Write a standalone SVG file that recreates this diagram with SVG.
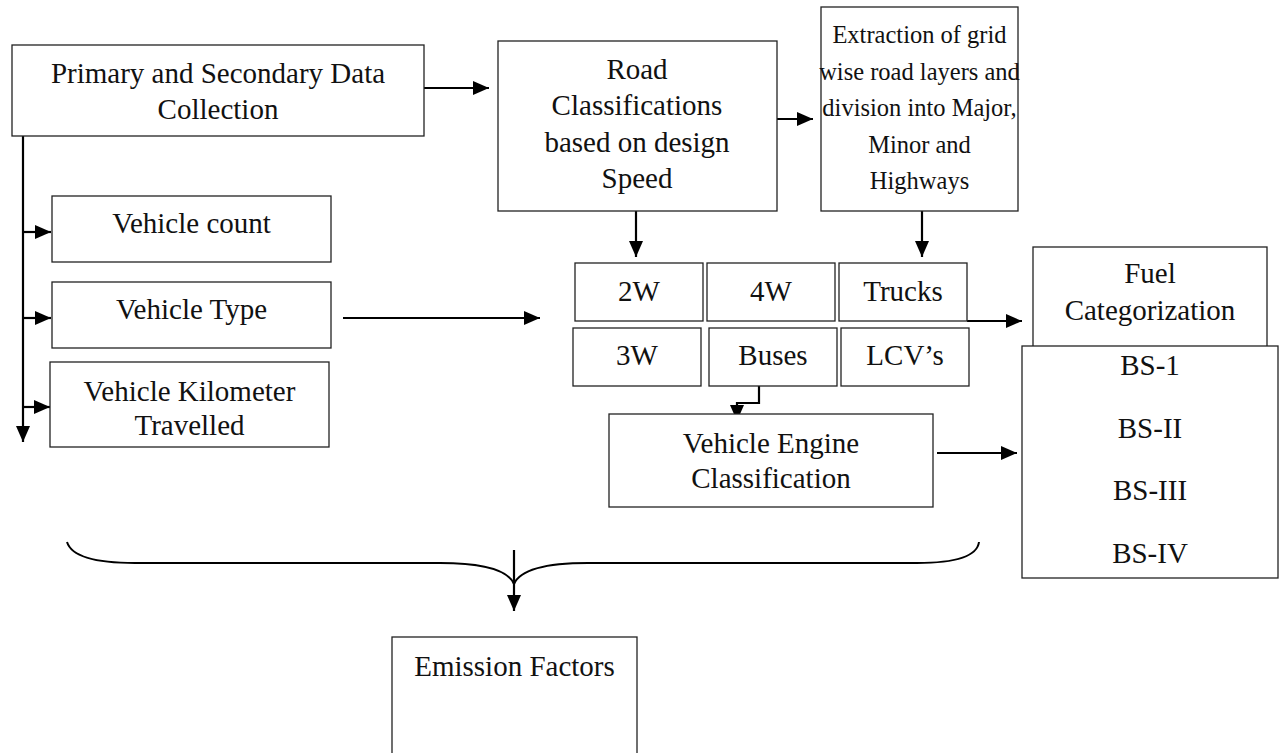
<svg xmlns="http://www.w3.org/2000/svg" width="1280" height="753" viewBox="0 0 1280 753">
  <style>
    .box { fill: #ffffff; stroke: #222222; stroke-width: 1.3; }
    .lbl { font-family: "Liberation Serif", "Times New Roman", serif; font-size: 29px; fill: #111111; text-anchor: middle; }
    .sm { font-size: 24.5px; }
    .wire { fill: none; stroke: #000000; stroke-width: 2.2; }
    .brace { fill: none; stroke: #000000; stroke-width: 2; }
  </style>
  <defs>
    <marker id="head" markerUnits="userSpaceOnUse" markerWidth="17" markerHeight="14" refX="16" refY="7" orient="auto">
      <path d="M0,0 L16,7 L0,14 Z" fill="#000000"/>
    </marker>
  </defs>
  <rect width="1280" height="753" fill="#ffffff"/>

  <!-- connectors -->
  <g id="connectors">
    <line class="wire" x1="424" y1="88" x2="489" y2="88" marker-end="url(#head)"/>
    <line class="wire" x1="777" y1="119" x2="813" y2="119" marker-end="url(#head)"/>
    <line class="wire" x1="23" y1="136" x2="23" y2="442" marker-end="url(#head)"/>
    <line class="wire" x1="23" y1="232" x2="51" y2="232" marker-end="url(#head)"/>
    <line class="wire" x1="23" y1="318" x2="51" y2="318" marker-end="url(#head)"/>
    <line class="wire" x1="23" y1="407" x2="50" y2="407" marker-end="url(#head)"/>
    <line class="wire" x1="343" y1="318" x2="540" y2="318" marker-end="url(#head)"/>
    <line class="wire" x1="636" y1="211" x2="636" y2="257" marker-end="url(#head)"/>
    <line class="wire" x1="922" y1="211" x2="922" y2="257" marker-end="url(#head)"/>
    <line class="wire" x1="967" y1="321" x2="1022" y2="321" marker-end="url(#head)"/>
    <polyline class="wire" points="759,386 759,403 737,403 737,421" marker-end="url(#head)"/>
    <line class="wire" x1="937" y1="453" x2="1017" y2="453" marker-end="url(#head)"/>
    <path class="brace" d="M67,542 C72,558 100,563 135,563 L440,563 C482,563 508,570 514,584 C520,570 546,563 588,563 L917,563 C952,563 977,558 979,542"/>
    <line class="wire" x1="514" y1="550" x2="514" y2="611" marker-end="url(#head)"/>
  </g>

  <g id="primary">
    <rect class="box" x="12" y="45" width="412" height="91"/>
    <text class="lbl" x="218" y="83">Primary and Secondary Data</text>
    <text class="lbl" x="218" y="119">Collection</text>
  </g>

  <g id="road-class">
    <rect class="box" x="498" y="41" width="279" height="170"/>
    <text class="lbl" x="637" y="79">Road</text>
    <text class="lbl" x="637" y="115">Classifications</text>
    <text class="lbl" x="637" y="152">based on design</text>
    <text class="lbl" x="637" y="188">Speed</text>
  </g>

  <g id="extraction">
    <rect class="box" x="821" y="7" width="197" height="204"/>
    <text class="lbl sm" x="919.5" y="43">Extraction of grid</text>
    <text class="lbl sm" x="919.5" y="80">wise road layers and</text>
    <text class="lbl sm" x="919.5" y="116">division into Major,</text>
    <text class="lbl sm" x="919.5" y="153">Minor and</text>
    <text class="lbl sm" x="919.5" y="189">Highways</text>
  </g>

  <g id="vehicle-count">
    <rect class="box" x="52" y="196" width="279" height="66"/>
    <text class="lbl" x="191.5" y="233">Vehicle count</text>
  </g>

  <g id="vehicle-type">
    <rect class="box" x="52" y="282" width="279" height="66"/>
    <text class="lbl" x="191.5" y="319">Vehicle Type</text>
  </g>

  <g id="vkt">
    <rect class="box" x="50" y="362" width="279" height="85"/>
    <text class="lbl" x="189.5" y="401">Vehicle Kilometer</text>
    <text class="lbl" x="189.5" y="435">Travelled</text>
  </g>

  <g id="cat-2w">
    <rect class="box" x="575" y="263" width="128" height="58"/>
    <text class="lbl" x="639" y="301">2W</text>
  </g>
  <g id="cat-4w">
    <rect class="box" x="707" y="263" width="128" height="58"/>
    <text class="lbl" x="771" y="301">4W</text>
  </g>
  <g id="cat-trucks">
    <rect class="box" x="839" y="263" width="128" height="58"/>
    <text class="lbl" x="903" y="301">Trucks</text>
  </g>
  <g id="cat-3w">
    <rect class="box" x="573" y="328" width="128" height="58"/>
    <text class="lbl" x="637" y="365">3W</text>
  </g>
  <g id="cat-buses">
    <rect class="box" x="709" y="328" width="128" height="58"/>
    <text class="lbl" x="773" y="365">Buses</text>
  </g>
  <g id="cat-lcv">
    <rect class="box" x="841" y="328" width="128" height="58"/>
    <text class="lbl" x="905" y="365">LCV’s</text>
  </g>

  <g id="engine">
    <rect class="box" x="609" y="414" width="324" height="93"/>
    <text class="lbl" x="771" y="453">Vehicle Engine</text>
    <text class="lbl" x="771" y="488">Classification</text>
  </g>

  <g id="fuel">
    <rect class="box" x="1033" y="247" width="234" height="105"/>
    <text class="lbl" x="1150" y="283">Fuel</text>
    <text class="lbl" x="1150" y="320">Categorization</text>
  </g>

  <g id="bharat-stage">
    <rect class="box" x="1022" y="346" width="256" height="232"/>
    <text class="lbl" x="1150" y="375">BS-1</text>
    <text class="lbl" x="1150" y="438">BS-II</text>
    <text class="lbl" x="1150" y="500">BS-III</text>
    <text class="lbl" x="1150" y="563">BS-IV</text>
  </g>

  <g id="emission">
    <rect class="box" x="392" y="637" width="245" height="130"/>
    <text class="lbl" x="514.5" y="676">Emission Factors</text>
  </g>
</svg>
